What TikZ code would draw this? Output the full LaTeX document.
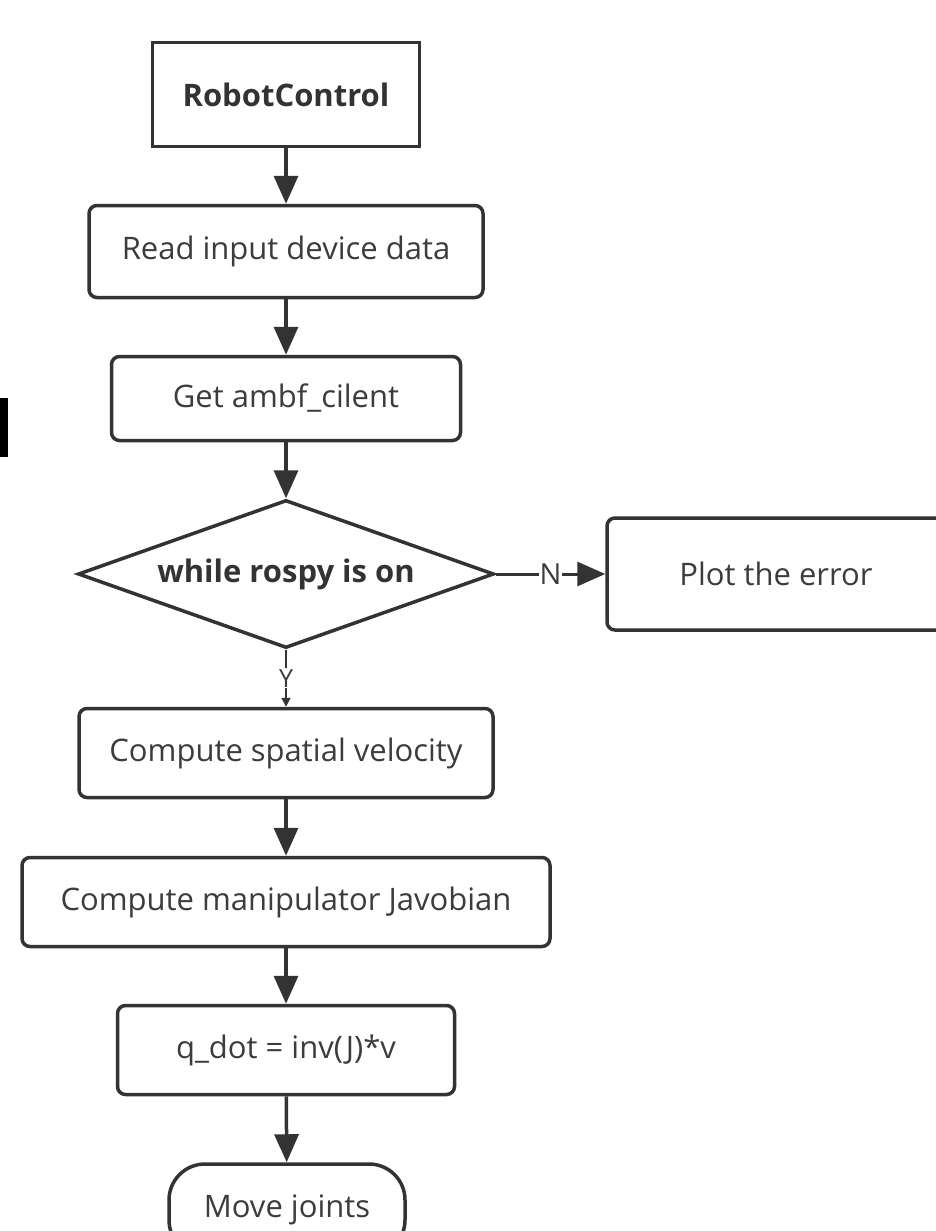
\documentclass[tikz,border=0pt]{standalone}
\usepackage{fontspec}
\setmainfont{Open Sans}
\usetikzlibrary{arrows.meta,shapes.geometric}
\definecolor{ln}{HTML}{333333}
\definecolor{tx}{HTML}{3C3C3C}
\begin{document}
\begin{tikzpicture}[x=1pt,y=-1pt,
  base/.style={draw=ln, line width=3.5pt, inner sep=0pt, text=tx, fill=white,
    font=\fontsize{31}{36}\selectfont},
  box/.style={base, rectangle, rounded corners=8pt},
  sharpbox/.style={base, rectangle, text=ln, font=\fontsize{31}{36}\selectfont\bfseries},
  decision/.style={base, diamond, aspect=2.81, text=ln, font=\fontsize{31}{36}\selectfont\bfseries},
  terminal/.style={base, rectangle, rounded corners=36pt},
  arr/.style={draw=ln, line width=3.5pt, -{Triangle[width=24pt,length=28pt]}},
  thinarr/.style={draw=ln, line width=1.5pt, -{Triangle[width=9pt,length=9pt]}},
  lbl/.style={fill=white, text=tx, inner sep=1pt}
]
\path[use as bounding box] (0,0) rectangle (936,1231);
\clip (0,0) rectangle (936,1231);
\fill[white] (0,0) rectangle (936,1231);
\fill[black] (0,398) rectangle (8,457);

\node[sharpbox, minimum width=267pt, minimum height=104pt] (rc) at (286,94.5) {RobotControl};
\node[box, minimum width=394pt, minimum height=92pt] (read) at (286,251.5) {Read input device data};
\node[box, minimum width=349pt, minimum height=84pt] (get) at (286,398.5) {Get ambf\_cilent};
\node[decision, minimum width=416pt, minimum height=148pt] (dec) at (286,574) {while rospy is on};
\node[box, minimum width=338pt, minimum height=112pt] (plot) at (776,574) {Plot the error};
\node[box, minimum width=414pt, minimum height=89pt] (csv) at (286,753) {Compute spatial velocity};
\node[box, minimum width=528pt, minimum height=89pt] (cmj) at (286,902) {Compute manipulator Javobian};
\node[box, minimum width=337pt, minimum height=89pt] (qd) at (286,1050) {q\_dot = inv(J)*v};
\node[terminal, minimum width=236pt, minimum height=92pt] (mj) at (287,1210) {Move joints};

\draw[arr] (rc) -- (read);
\draw[arr] (read) -- (get);
\draw[arr] (get) -- (dec);
\draw[arr, line width=3pt] (dec) -- node[lbl, font=\fontsize{29}{32}\selectfont] (n) {N} (plot);
\draw[thinarr] (dec) -- node[lbl, font=\fontsize{25}{28}\selectfont] (y) {Y} (csv);
\draw[arr] (csv) -- (cmj);
\draw[arr] (cmj) -- (qd);
\draw[arr] (qd) -- (mj);
\end{tikzpicture}
\end{document}
